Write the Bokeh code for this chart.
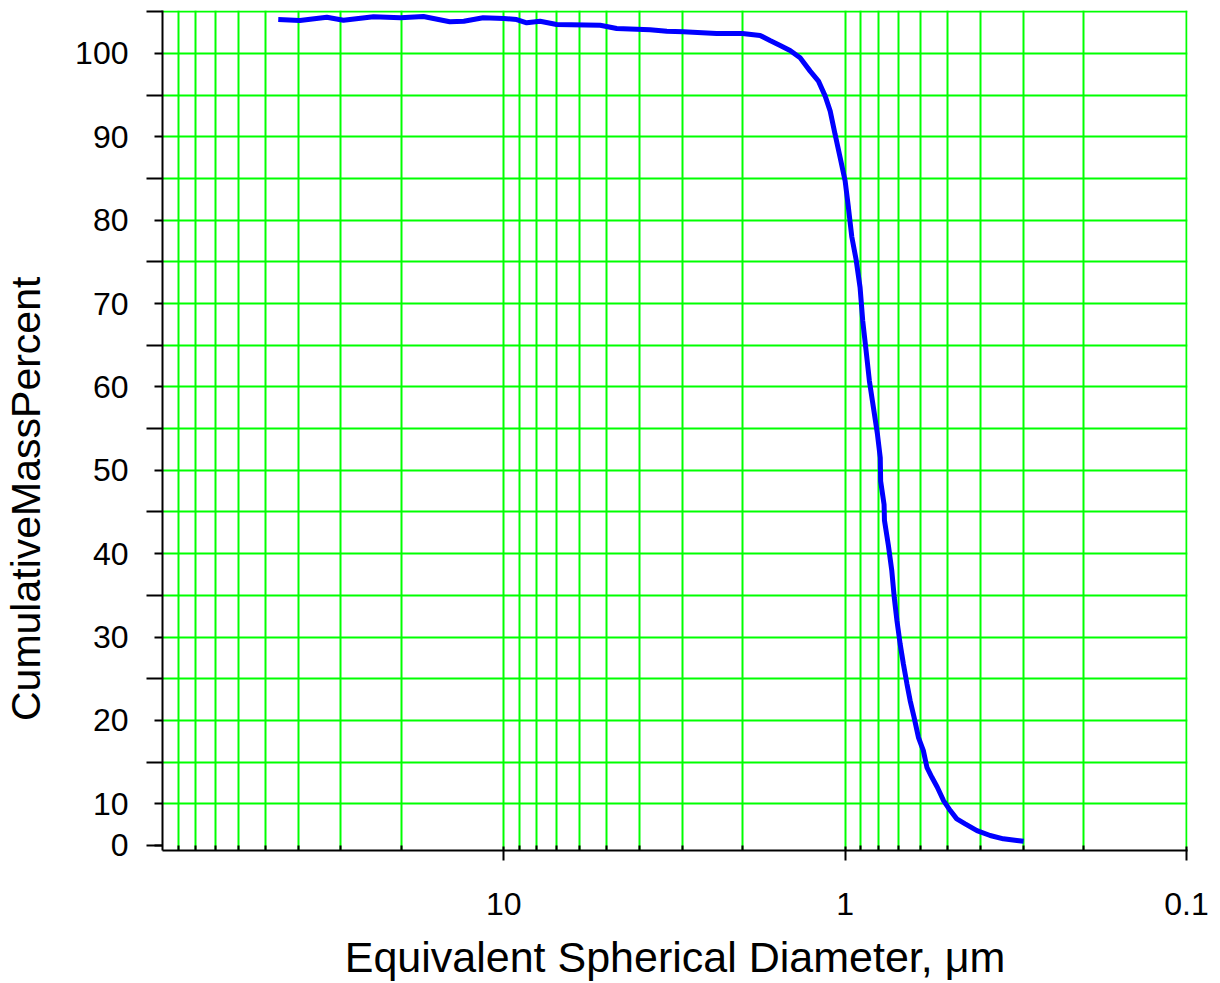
import math
from bokeh.plotting import figure
from bokeh.models import Range1d, FixedTicker
from bokeh.embed import file_html
from bokeh.resources import INLINE

# ---- data ----
diameter_um = [45.8, 39.6, 33.0, 29.5, 24.1, 20.1, 17.2, 14.4, 13.1, 11.5,
               10.0, 9.17, 8.57, 7.83, 7.0, 5.22, 4.67, 3.73, 3.33, 2.98,
               2.38, 2.17, 2.0, 1.775, 1.66, 1.55, 1.45, 1.355, 1.266, 1.197,
               1.144, 1.106, 1.070, 1.034, 1.0, 0.978, 0.956, 0.929, 0.904, 0.888,
               0.868, 0.849, 0.826, 0.804, 0.789, 0.787, 0.769, 0.767, 0.747, 0.730,
               0.718, 0.705, 0.690, 0.675, 0.659, 0.645, 0.628, 0.610, 0.590, 0.576,
               0.557, 0.537, 0.515, 0.492, 0.471, 0.445, 0.411, 0.376, 0.344, 0.314,
               0.300]
cum_mass_pct = [104.07, 103.95, 104.35, 103.99, 104.39, 104.27, 104.43, 103.8, 103.87, 104.27,
                104.19, 104.07, 103.67, 103.87, 103.48, 103.39, 103.0, 102.83, 102.67, 102.59,
                102.4, 102.4, 102.4, 102.16, 101.56, 100.96, 100.36, 99.47, 97.88, 96.68,
                94.88, 93.08, 90.29, 87.49, 84.7, 81.5, 78.0, 75.3, 71.9, 67.9,
                64.3, 60.7, 57.5, 54.3, 51.5, 48.7, 45.9, 44.0, 41.0, 37.96,
                34.76, 31.96, 29.17, 26.77, 24.38, 22.38, 20.37, 17.98, 16.38, 14.38,
                13.18, 11.98, 10.39, 9.19, 8.19, 7.6, 6.79, 6.2, 5.8, 5.6,
                5.5]

x_major_ticks = [10, 1, 0.1]
x_major_labels = ["10", "1", "0.1"]
x_minor_ticks = [90, 80, 70, 60, 50, 40, 30, 20,
                 9, 8, 7, 6, 5, 4, 3, 2,
                 0.9, 0.8, 0.7, 0.6, 0.5, 0.4, 0.3, 0.2]

y_label_ticks = [5, 10, 20, 30, 40, 50, 60, 70, 80, 90, 100]
y_label_texts = ["0", "10", "20", "30", "40", "50", "60", "70", "80", "90", "100"]
y_long_ticks = [5, 15, 25, 35, 45, 55, 65, 75, 85, 95, 105]
y_grid_major = [10, 20, 30, 40, 50, 60, 70, 80, 90, 100]
y_grid_minor = [15, 25, 35, 45, 55, 65, 75, 85, 95, 105]

x_title = "Equivalent Spherical Diameter, \u03bcm"
y_title = "CumulativeMassPercent"

GREEN = "#00FF00"
FONT = "Liberation Sans"

p = figure(x_axis_type="log",
           x_range=Range1d(100, 0.0993), y_range=Range1d(4.4, 105.15),
           frame_width=1025, frame_height=840,
           min_border_left=162, min_border_top=10, min_border_right=30, min_border_bottom=4,
           output_backend="svg", toolbar_location=None,
           background_fill_color="white", border_fill_color="white")
p.outline_line_color = None

# x axis
xa = p.xaxis[0]
xa.ticker = FixedTicker(ticks=x_major_ticks, minor_ticks=x_minor_ticks)
xa.major_label_overrides = dict(zip(x_major_ticks, x_major_labels))
xa.axis_line_color = "black"
xa.axis_line_width = 2
xa.major_tick_line_width = 2
xa.major_tick_in = 4
xa.major_tick_out = 10
xa.minor_tick_line_width = 2
xa.minor_tick_in = 5
xa.minor_tick_out = 0
xa.major_label_text_font = FONT
xa.major_label_text_font_size = "32px"
xa.major_label_text_color = "black"
xa.major_label_standoff = 32
xa.axis_label = x_title
xa.axis_label_text_font = FONT
xa.axis_label_text_font_size = "43px"
xa.axis_label_text_font_style = "normal"
xa.axis_label_text_color = "black"
xa.axis_label_standoff = 15

# y axis
ya = p.yaxis[0]
ya.ticker = FixedTicker(ticks=y_label_ticks, minor_ticks=y_long_ticks)
ya.major_label_overrides = dict(zip(y_label_ticks, y_label_texts))
ya.axis_line_color = "black"
ya.axis_line_width = 2
ya.major_tick_line_width = 2
ya.major_tick_in = 0
ya.major_tick_out = 8
ya.minor_tick_line_width = 2
ya.minor_tick_in = 0
ya.minor_tick_out = 16
ya.major_label_text_font = FONT
ya.major_label_text_font_size = "32px"
ya.major_label_text_color = "black"
ya.major_label_standoff = 18
# non-breaking padding shifts the centred title down along the axis, as in the reference
ya.axis_label = y_title + "\u00a0" * 12
ya.axis_label_text_font = FONT
ya.axis_label_text_font_size = "41px"
ya.axis_label_text_font_style = "normal"
ya.axis_label_text_color = "black"
ya.axis_label_standoff = 23

# grids
p.xgrid.grid_line_color = GREEN
p.xgrid.grid_line_width = 2
p.xgrid.minor_grid_line_color = GREEN
p.xgrid.minor_grid_line_width = 2
p.ygrid.ticker = FixedTicker(ticks=y_grid_major, minor_ticks=y_grid_minor)
p.ygrid.grid_line_color = GREEN
p.ygrid.grid_line_width = 2
p.ygrid.minor_grid_line_color = GREEN
p.ygrid.minor_grid_line_width = 2

# curve
p.line(diameter_um, cum_mass_pct, line_color="#0000FF", line_width=5)

open("out.html", "w").write(file_html(p, INLINE))
